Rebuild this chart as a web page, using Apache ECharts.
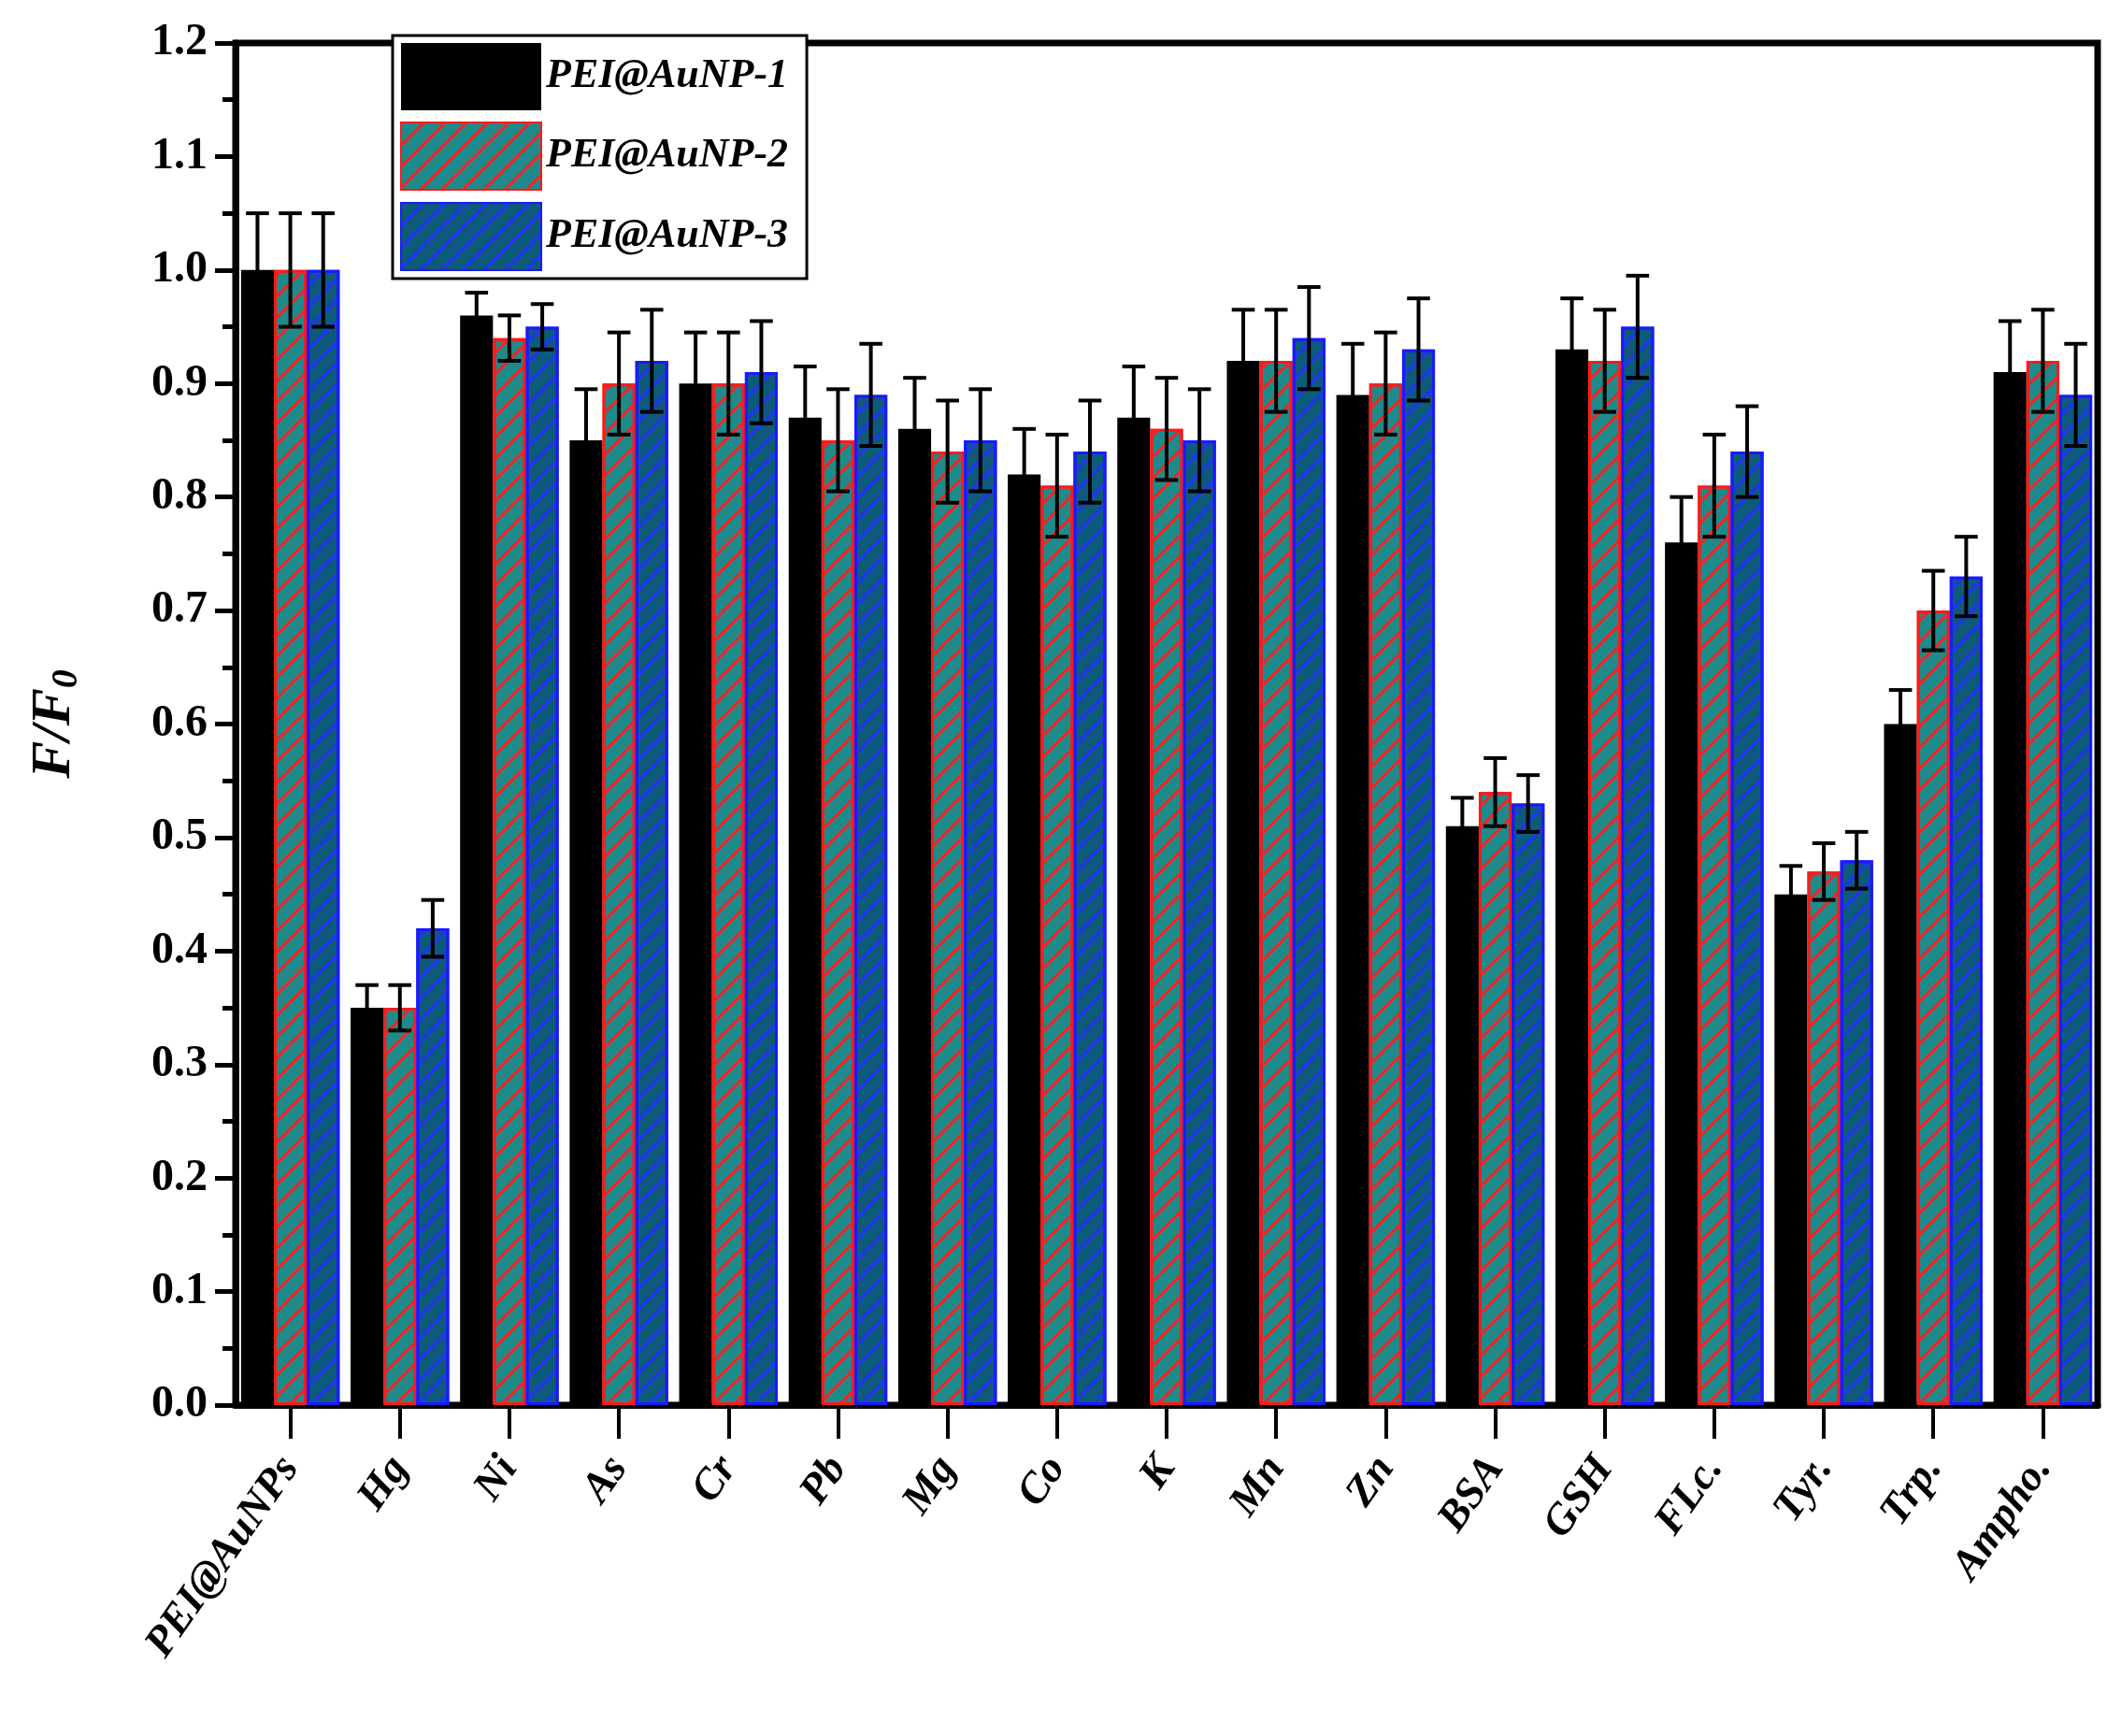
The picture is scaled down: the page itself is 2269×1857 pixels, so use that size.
<!DOCTYPE html>
<html><head><meta charset="utf-8">
<script src="https://cdn.jsdelivr.net/npm/echarts@6/dist/echarts.min.js"></script>
<style>html,body{margin:0;padding:0;background:#fff}#c{width:2269px;height:1857px}</style>
</head><body><div id="c"></div>
<script>
const categories = ["PEI@AuNPs","Hg","Ni","As","Cr","Pb","Mg","Co","K","Mn","Zn","BSA","GSH","FLc.","Tyr.","Trp.","Ampho."];
const seriesNames = ["PEI@AuNP-1","PEI@AuNP-2","PEI@AuNP-3"];
const s1 = [1.00,0.35,0.96,0.85,0.90,0.87,0.86,0.82,0.87,0.92,0.89,0.51,0.93,0.76,0.45,0.60,0.91];
const s2 = [1.00,0.35,0.94,0.90,0.90,0.85,0.84,0.81,0.86,0.92,0.90,0.54,0.92,0.81,0.47,0.70,0.92];
const s3 = [1.00,0.42,0.95,0.92,0.91,0.89,0.85,0.84,0.85,0.94,0.93,0.53,0.95,0.84,0.48,0.73,0.89];
const e1 = [0.05,0.02,0.02,0.045,0.045,0.045,0.045,0.04,0.045,0.045,0.045,0.025,0.045,0.04,0.025,0.03,0.045];
const e2 = [0.05,0.02,0.02,0.045,0.045,0.045,0.045,0.045,0.045,0.045,0.045,0.03,0.045,0.045,0.025,0.035,0.045];
const e3 = [0.05,0.025,0.02,0.045,0.045,0.045,0.045,0.045,0.045,0.045,0.045,0.025,0.045,0.04,0.025,0.035,0.045];
const yTicks = [0,0.1,0.2,0.3,0.4,0.5,0.6,0.7,0.8,0.9,1.0,1.1,1.2];

const vals=[s1,s2,s3], errs=[e1,e2,e3];
const chart = echarts.init(document.getElementById('c'));
const font = "'Liberation Serif','DejaVu Serif',serif";
const fills=['#000000','#1f8a8a','#0e5a7a'];
const borders=['#000000','#ff1a1a','#1a1aff'];
const decals=[null,
 {symbol:'rect',color:'#ff2020',dashArrayX:[1,0],dashArrayY:[3,13],rotation:-Math.PI/4,symbolSize:1},
 {symbol:'rect',color:'#2030ff',dashArrayX:[1,0],dashArrayY:[3,13],rotation:-Math.PI/4,symbolSize:1}];
const barCat=0.1;
const series=[];
seriesNames.forEach((n,i)=>{
  const st={color:fills[i],borderColor:borders[i],borderWidth:i?3:0};
  if(decals[i]) st.decal=decals[i];
  series.push({name:n,type:'bar',data:vals[i],barGap:'0%',barCategoryGap:(barCat*100)+'%',itemStyle:st,z:2});
});
seriesNames.forEach((n,i)=>{
  series.push({type:'custom',name:n+'_err',z:5,
    data:categories.map((c,k)=>[k,vals[i][k],errs[i][k]]),
    renderItem:(params,api)=>{
      const k=api.value(0),v=api.value(1),e=api.value(2);
      const band=api.size([1,0])[0];
      const bw=band*(1-barCat)/3;
      const cx=api.coord([k,0])[0]-band*(1-barCat)/2+bw*(i+0.5);
      const top=api.coord([k,v+e])[1], bot=api.coord([k,v-e])[1];
      const cap=bw*0.35;
      const st={stroke:'#000',lineWidth:4};
      return {type:'group',children:[
        {type:'line',shape:{x1:cx,y1:top,x2:cx,y2:bot},style:st},
        {type:'line',shape:{x1:cx-cap,y1:top,x2:cx+cap,y2:top},style:st},
        {type:'line',shape:{x1:cx-cap,y1:bot,x2:cx+cap,y2:bot},style:st}]};
    }});
});
chart.setOption({
  animation:false,
  backgroundColor:'#fff',
  grid:{left:252,right:25,top:46,bottom:354,containLabel:false,show:true,borderColor:'#000',borderWidth:7,backgroundColor:'transparent'},
  legend:{data:seriesNames,left:420,top:38,orient:'vertical',icon:'rect',itemWidth:150,itemHeight:72,itemGap:12,
    padding:[8,20,8,8],borderColor:'#000',borderWidth:3,backgroundColor:'#fff',
    textStyle:{fontFamily:font,fontStyle:'italic',fontWeight:'bold',fontSize:44,color:'#000'}},
  xAxis:{type:'category',data:categories,
    axisLine:{lineStyle:{color:'#000',width:7}},
    axisTick:{show:true,alignWithLabel:true,length:36,lineStyle:{color:'#000',width:4}},
    axisLabel:{rotate:55,interval:0,margin:60,fontFamily:font,fontStyle:'italic',fontWeight:'bold',fontSize:46,color:'#000'}},
  yAxis:{type:'value',min:0,max:1.2,interval:0.1,
    name:'{a|F/F}{b|0}',nameLocation:'middle',nameGap:160,nameRotate:90,
    nameTextStyle:{rich:{a:{fontFamily:font,fontStyle:'italic',fontWeight:'bold',fontSize:60,color:'#000'},
      b:{fontFamily:font,fontStyle:'italic',fontWeight:'bold',fontSize:40,color:'#000',padding:[28,0,0,0]}}},
    splitLine:{show:false},
    axisLine:{show:true,lineStyle:{color:'#000',width:7}},
    axisTick:{show:true,length:22,lineStyle:{color:'#000',width:5}},
    minorTick:{show:true,splitNumber:2,length:14,lineStyle:{color:'#000',width:5}},
    axisLabel:{margin:30,fontFamily:font,fontWeight:'bold',fontSize:48,color:'#000',formatter:v=>v.toFixed(1)}},
  series:series
});
</script></body></html>
